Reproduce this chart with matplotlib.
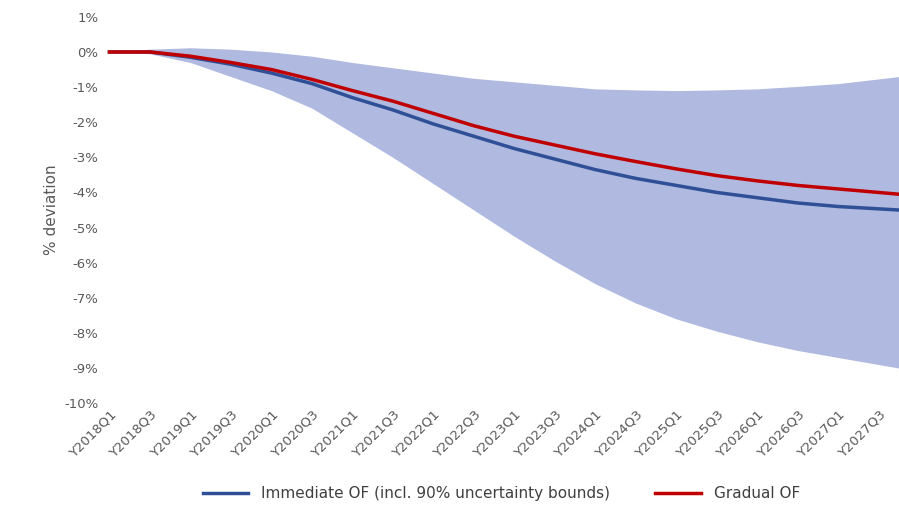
import matplotlib.pyplot as plt

quarters = [f"Y{y}Q{q}" for y in range(2018, 2028) for q in range(1, 5)]
idx = [0, 2, 4, 6, 8, 10, 12, 14, 16, 18, 20, 22, 24, 26, 28, 30, 32, 34, 36, 39]
immediate = [0, 0, -0.15, -0.35, -0.6, -0.9, -1.3, -1.65, -2.05, -2.4, -2.75, -3.05,
             -3.35, -3.6, -3.8, -4.0, -4.15, -4.3, -4.4, -4.5]
gradual = [0, 0, -0.12, -0.3, -0.5, -0.78, -1.1, -1.4, -1.75, -2.1, -2.4, -2.65,
           -2.9, -3.12, -3.33, -3.52, -3.67, -3.8, -3.9, -4.05]
upper = [0, 0.08, 0.12, 0.08, 0.0, -0.12, -0.3, -0.45, -0.6, -0.75, -0.85, -0.95,
         -1.05, -1.08, -1.1, -1.08, -1.05, -0.98, -0.9, -0.7]
lower = [0, -0.05, -0.3, -0.7, -1.1, -1.6, -2.3, -3.0, -3.75, -4.5, -5.25, -5.95,
         -6.6, -7.15, -7.6, -7.95, -8.25, -8.5, -8.7, -9.0]

fig, ax = plt.subplots(figsize=(8.99, 5.11), dpi=100)
fig.subplots_adjust(left=0.115, right=1.0, top=0.967, bottom=0.211)
ax.fill_between(idx, lower, upper, color='#b0b9df', lw=0)
ax.plot(idx, immediate, color='#2f4f96', lw=2.5, label='Immediate OF (incl. 90% uncertainty bounds)')
ax.plot(idx, gradual, color='#c00000', lw=2.5, label='Gradual OF')

ax.set_xlim(-0.3, 39)
ax.set_ylim(-10, 1)
ax.set_yticks(range(-10, 2))
ax.set_yticklabels([f"{v}%" for v in range(-10, 2)])
ax.set_xticks(range(0, 40, 2))
ax.set_xticklabels(quarters[::2], rotation=45, ha='right', rotation_mode='anchor')
ax.tick_params(colors='#595959', labelsize=9.5, length=0)
ax.set_ylabel('% deviation', color='#595959', fontsize=11)
for s in ax.spines.values():
    s.set_visible(False)
ax.legend(loc='center', bbox_to_anchor=(0.5, -0.235), ncol=2, frameon=False,
          fontsize=11, labelcolor='#404040', handlelength=3, columnspacing=3)
fig.savefig('out.png')
